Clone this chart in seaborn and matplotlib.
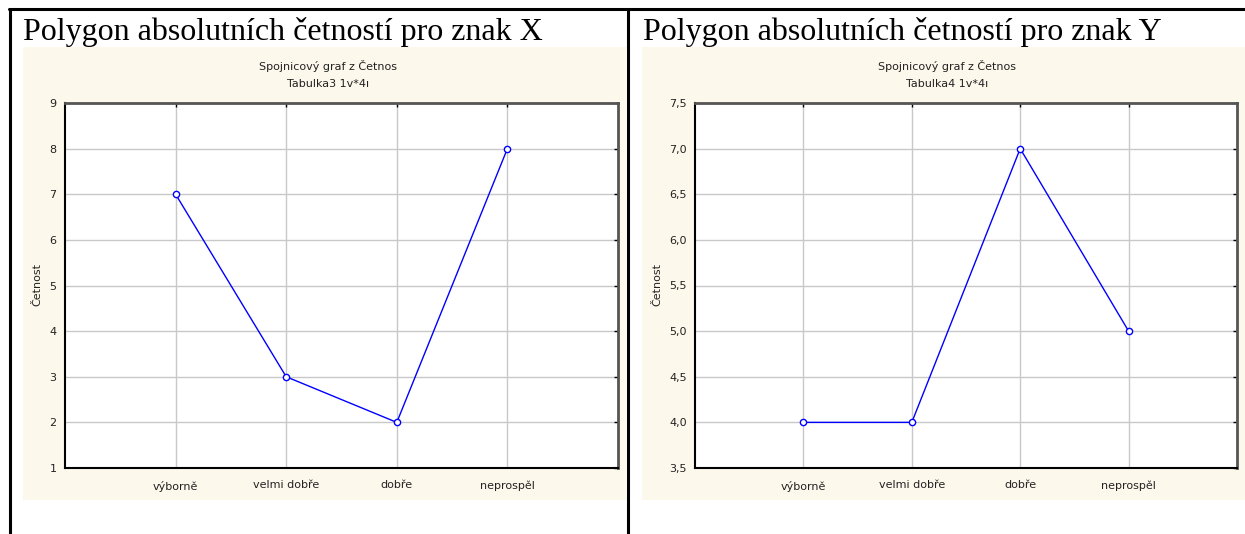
import matplotlib
matplotlib.use("Agg")
import matplotlib.pyplot as plt
import matplotlib.ticker as mticker
from matplotlib.patches import Rectangle
from matplotlib.lines import Line2D
import seaborn as sns
import pandas as pd

categories = ["výborně", "velmi dobře", "dobře", "neprospěl"]
counts_x = [7, 3, 2, 8]
counts_y = [4, 4, 7, 5]
yticks_x = [1, 2, 3, 4, 5, 6, 7, 8, 9]
yticks_y = [3.5, 4.0, 4.5, 5.0, 5.5, 6.0, 6.5, 7.0, 7.5]
titles = ["Polygon absolutních četností pro znak X", "Polygon absolutních četností pro znak Y"]
subtitles = [["Spojnicový graf z Četnos", "Tabulka3 1v*4ı"],
             ["Spojnicový graf z Četnos", "Tabulka4 1v*4ı"]]
ylabel = "Četnost"

sns.set_theme(style="white")
plt.rcParams["font.family"] = ["DejaVu Sans"]

W, H = 1245, 534
fig = plt.figure(figsize=(W / 100, H / 100), dpi=100)
fig.patch.set_facecolor("white")

def fx(px):
    return px / W

def fy(py):
    return 1 - py / H

# outer frame lines
fig.add_artist(Line2D([fx(9), fx(1245)], [fy(8.5), fy(8.5)], color="black", lw=2.2, transform=fig.transFigure))
fig.add_artist(Line2D([fx(9.5), fx(9.5)], [fy(8.5), 0], color="black", lw=2.2, transform=fig.transFigure))
fig.add_artist(Line2D([fx(628), fx(628)], [fy(8.5), 0], color="black", lw=2.2, transform=fig.transFigure))

panels = [
    dict(bg=(23, 626), ax=(65, 618), title_x=23, sub_cx=328, data=counts_x, yt=yticks_x,
         ylim=(1, 9), fmt=lambda v, p: f"{v:.0f}", ylab_x=37, sub=subtitles[0], title=titles[0]),
    dict(bg=(642, 1245), ax=(695, 1237), title_x=643, sub_cx=947, data=counts_y, yt=yticks_y,
         ylim=(3.5, 7.5), fmt=lambda v, p: f"{v:.1f}".replace(".", ","), ylab_x=657,
         sub=subtitles[1], title=titles[1]),
]

for pnl in panels:
    x0, x1 = pnl["bg"]
    fig.add_artist(Rectangle((fx(x0), fy(500)), fx(x1 - x0), (500 - 47) / H,
                             transform=fig.transFigure, facecolor="#fdf8ec", edgecolor="none", zorder=0))
    fig.text(fx(pnl["title_x"]), fy(40), pnl["title"], family=["Liberation Serif"], fontsize=23,
             color="black", ha="left", va="baseline")
    fig.text(fx(pnl["sub_cx"]), fy(66), pnl["sub"][0], fontsize=8, ha="center", va="center", color="#222222")
    fig.text(fx(pnl["sub_cx"]), fy(84), pnl["sub"][1], fontsize=8, ha="center", va="center", color="#222222")

    a0, a1 = pnl["ax"]
    ax = fig.add_axes([fx(a0), fy(468), fx(a1 - a0), (468 - 103) / H])
    ax.set_facecolor("white")
    df = pd.DataFrame({"cat": categories, "val": pnl["data"]})
    sns.lineplot(data=df, x="cat", y="val", ax=ax, color="#0000ff", lw=1, marker="o",
                 markersize=4.5, markerfacecolor="white", markeredgecolor="#0000ff",
                 markeredgewidth=1, sort=False)
    ax.set_xlim(-1, 4)
    ax.set_ylim(*pnl["ylim"])
    ax.set_yticks(pnl["yt"])
    ax.yaxis.set_major_formatter(mticker.FuncFormatter(pnl["fmt"]))
    ax.set_xticks(range(len(categories)))
    ax.set_xticklabels(categories)
    ax.set_xlabel("")
    ax.set_ylabel("")
    ax.grid(True, color="#c8c8c8", lw=1)
    ax.tick_params(axis="both", direction="in", length=3, width=1, color="black",
                   labelsize=8, labelcolor="#222222", top=True, right=True,
                   labeltop=False, labelright=False)
    ax.tick_params(axis="x", pad=9)
    ax.tick_params(axis="y", pad=6)
    for s in ["left", "bottom"]:
        ax.spines[s].set_color("black")
        ax.spines[s].set_linewidth(1.5)
    for s in ["top", "right"]:
        ax.spines[s].set_color("#555555")
        ax.spines[s].set_linewidth(2)
        ax.spines[s].set_visible(True)
    fig.text(fx(pnl["ylab_x"]), fy(285), ylabel, rotation=90, fontsize=8, ha="center", va="center",
             color="#222222")

fig.savefig("out.png", dpi=100, facecolor="white")
